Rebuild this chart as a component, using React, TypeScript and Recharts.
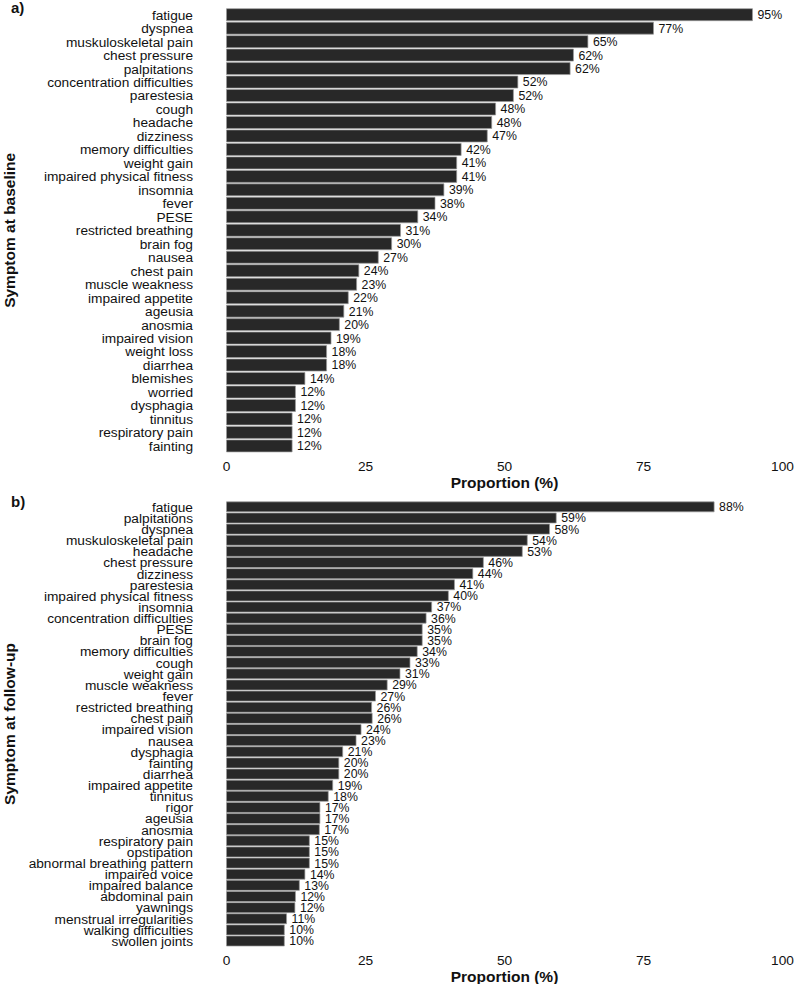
import React from "react";
import { BarChart, Bar, XAxis, YAxis, LabelList, Label } from "recharts";

// Panel a: symptoms reported at baseline (proportion of patients, %)
const baselineSymptoms = [
  "fatigue", "dyspnea", "muskuloskeletal pain", "chest pressure", "palpitations",
  "concentration difficulties", "parestesia", "cough", "headache", "dizziness",
  "memory difficulties", "weight gain", "impaired physical fitness", "insomnia", "fever",
  "PESE", "restricted breathing", "brain fog", "nausea", "chest pain",
  "muscle weakness", "impaired appetite", "ageusia", "anosmia", "impaired vision",
  "weight loss", "diarrhea", "blemishes", "worried", "dysphagia",
  "tinnitus", "respiratory pain", "fainting",
];
const baselineValues = [
  94.6, 76.8, 65.0, 62.4, 61.8,
  52.4, 51.6, 48.4, 47.7, 46.9,
  42.2, 41.4, 41.4, 39.1, 37.5,
  34.4, 31.3, 29.7, 27.3, 23.8,
  23.4, 21.9, 21.1, 20.3, 18.8,
  18.0, 18.0, 14.1, 12.4, 12.4,
  11.8, 11.8, 11.8,
];

// Panel b: symptoms reported at follow-up (proportion of patients, %)
const followupSymptoms = [
  "fatigue", "palpitations", "dyspnea", "muskuloskeletal pain", "headache",
  "chest pressure", "dizziness", "parestesia", "impaired physical fitness", "insomnia",
  "concentration difficulties", "PESE", "brain fog", "memory difficulties", "cough",
  "weight gain", "muscle weakness", "fever", "restricted breathing", "chest pain",
  "impaired vision", "nausea", "dysphagia", "fainting", "diarrhea",
  "impaired appetite", "tinnitus", "rigor", "ageusia", "anosmia",
  "respiratory pain", "opstipation", "abnormal breathing pattern", "impaired voice", "impaired balance",
  "abdominal pain", "yawnings", "menstrual irregularities", "walking difficulties", "swollen joints",
];
const followupValues = [
  87.7, 59.3, 58.1, 54.1, 53.2,
  46.2, 44.3, 41.0, 39.9, 36.9,
  35.9, 35.2, 35.2, 34.3, 33.0,
  31.2, 28.9, 26.8, 26.1, 26.2,
  24.2, 23.3, 20.9, 20.2, 20.2,
  19.1, 18.3, 16.8, 16.8, 16.7,
  14.9, 14.9, 14.9, 14.1, 13.1,
  12.4, 12.3, 10.8, 10.4, 10.4,
];

const xTicks = [0, 25, 50, 75, 100];

const FONT = "'Liberation Sans', Arial, Helvetica, sans-serif";
const TEXT_COLOR = "#111111";
const BAR_FILL = "#282828";
const BAR_STROKE = "#9a9a9a";

type Row = { name: string; value: number };

const toRows = (names: string[], values: number[]): Row[] =>
  names.map((name, i) => ({ name, value: values[i] }));

const ValueLabel = (props: any) => {
  const { x, y, width, height, value } = props;
  return (
    <text
      x={Number(x) + Number(width) + 5}
      y={Number(y) + Number(height) / 2}
      dy="0.36em"
      fontSize={12.3}
      fontFamily={FONT}
      fill={TEXT_COLOR}
    >
      {`${Math.round(Number(value))}%`}
    </text>
  );
};

type PanelProps = {
  rows: Row[];
  tag: string;
  yTitle: string;
  height: number;
  marginTop: number;
  xAxisHeight: number;
};

const Panel = ({ rows, tag, yTitle, height, marginTop, xAxisHeight }: PanelProps) => {
  const width = 794;
  const yAxisWidth = 226.5;
  const marginRight = 11.5;
  const plotTop = marginTop;
  const plotBottom = height - xAxisHeight;
  return (
    <BarChart
      width={width}
      height={height}
      data={rows}
      layout="vertical"
      margin={{ top: marginTop, right: marginRight, bottom: 0, left: 0 }}
      barCategoryGap="5%"
      style={{ fontFamily: FONT }}
    >
      <XAxis
        type="number"
        domain={[0, 100]}
        ticks={xTicks}
        interval={0}
        axisLine={false}
        tickLine={false}
        tickSize={0}
        tickMargin={8.3}
        height={xAxisHeight}
        tick={{ fontSize: 13.7, fill: TEXT_COLOR, fontFamily: FONT }}
      >
        <Label
          content={(p: any) => {
            const vb = p.viewBox || {};
            return (
              <text
                x={vb.x + vb.width / 2}
                y={vb.y + 35}
                textAnchor="middle"
                fontSize={15.5}
                fontWeight="bold"
                fontFamily={FONT}
                fill={TEXT_COLOR}
              >
                Proportion (%)
              </text>
            );
          }}
        />
      </XAxis>
      <YAxis
        type="category"
        dataKey="name"
        width={yAxisWidth}
        interval={0}
        axisLine={false}
        tickLine={false}
        tickSize={0}
        tickMargin={33.5}
        tick={{ fontSize: 13.7, fill: TEXT_COLOR, fontFamily: FONT }}
      >
        <Label
          content={() => (
            <g>
              <text
                x={10}
                y={(plotTop + plotBottom) / 2}
                dy="0.35em"
                transform={`rotate(-90, 10, ${(plotTop + plotBottom) / 2})`}
                textAnchor="middle"
                fontSize={15.5}
                fontWeight="bold"
                fontFamily={FONT}
                fill={TEXT_COLOR}
              >
                {yTitle}
              </text>
              <text
                x={11}
                y={plotTop}
                dy="0.35em"
                fontSize={15}
                fontWeight="bold"
                fontFamily={FONT}
                fill={TEXT_COLOR}
              >
                {tag}
              </text>
            </g>
          )}
        />
      </YAxis>
      <Bar
        dataKey="value"
        fill={BAR_FILL}
        stroke={BAR_STROKE}
        strokeWidth={0.7}
        isAnimationActive={false}
      >
        <LabelList dataKey="value" content={ValueLabel} />
      </Bar>
    </BarChart>
  );
};

export default function App() {
  const baselineRows = toRows(baselineSymptoms, baselineValues);
  const followupRows = toRows(followupSymptoms, followupValues);
  return (
    <div
      style={{
        position: "absolute",
        left: 0,
        top: 0,
        width: 794,
        height: 984,
        background: "#ffffff",
        overflow: "hidden",
      }}
    >
      <div style={{ position: "absolute", left: 0, top: 0 }}>
        <Panel
          rows={baselineRows}
          tag="a)"
          yTitle="Symptom at baseline"
          height={492}
          marginTop={8}
          xAxisHeight={39.3}
        />
      </div>
      <div style={{ position: "absolute", left: 0, top: 492 }}>
        <Panel
          rows={followupRows}
          tag="b)"
          yTitle="Symptom at follow-up"
          height={492}
          marginTop={9.3}
          xAxisHeight={37.4}
        />
      </div>
    </div>
  );
}
